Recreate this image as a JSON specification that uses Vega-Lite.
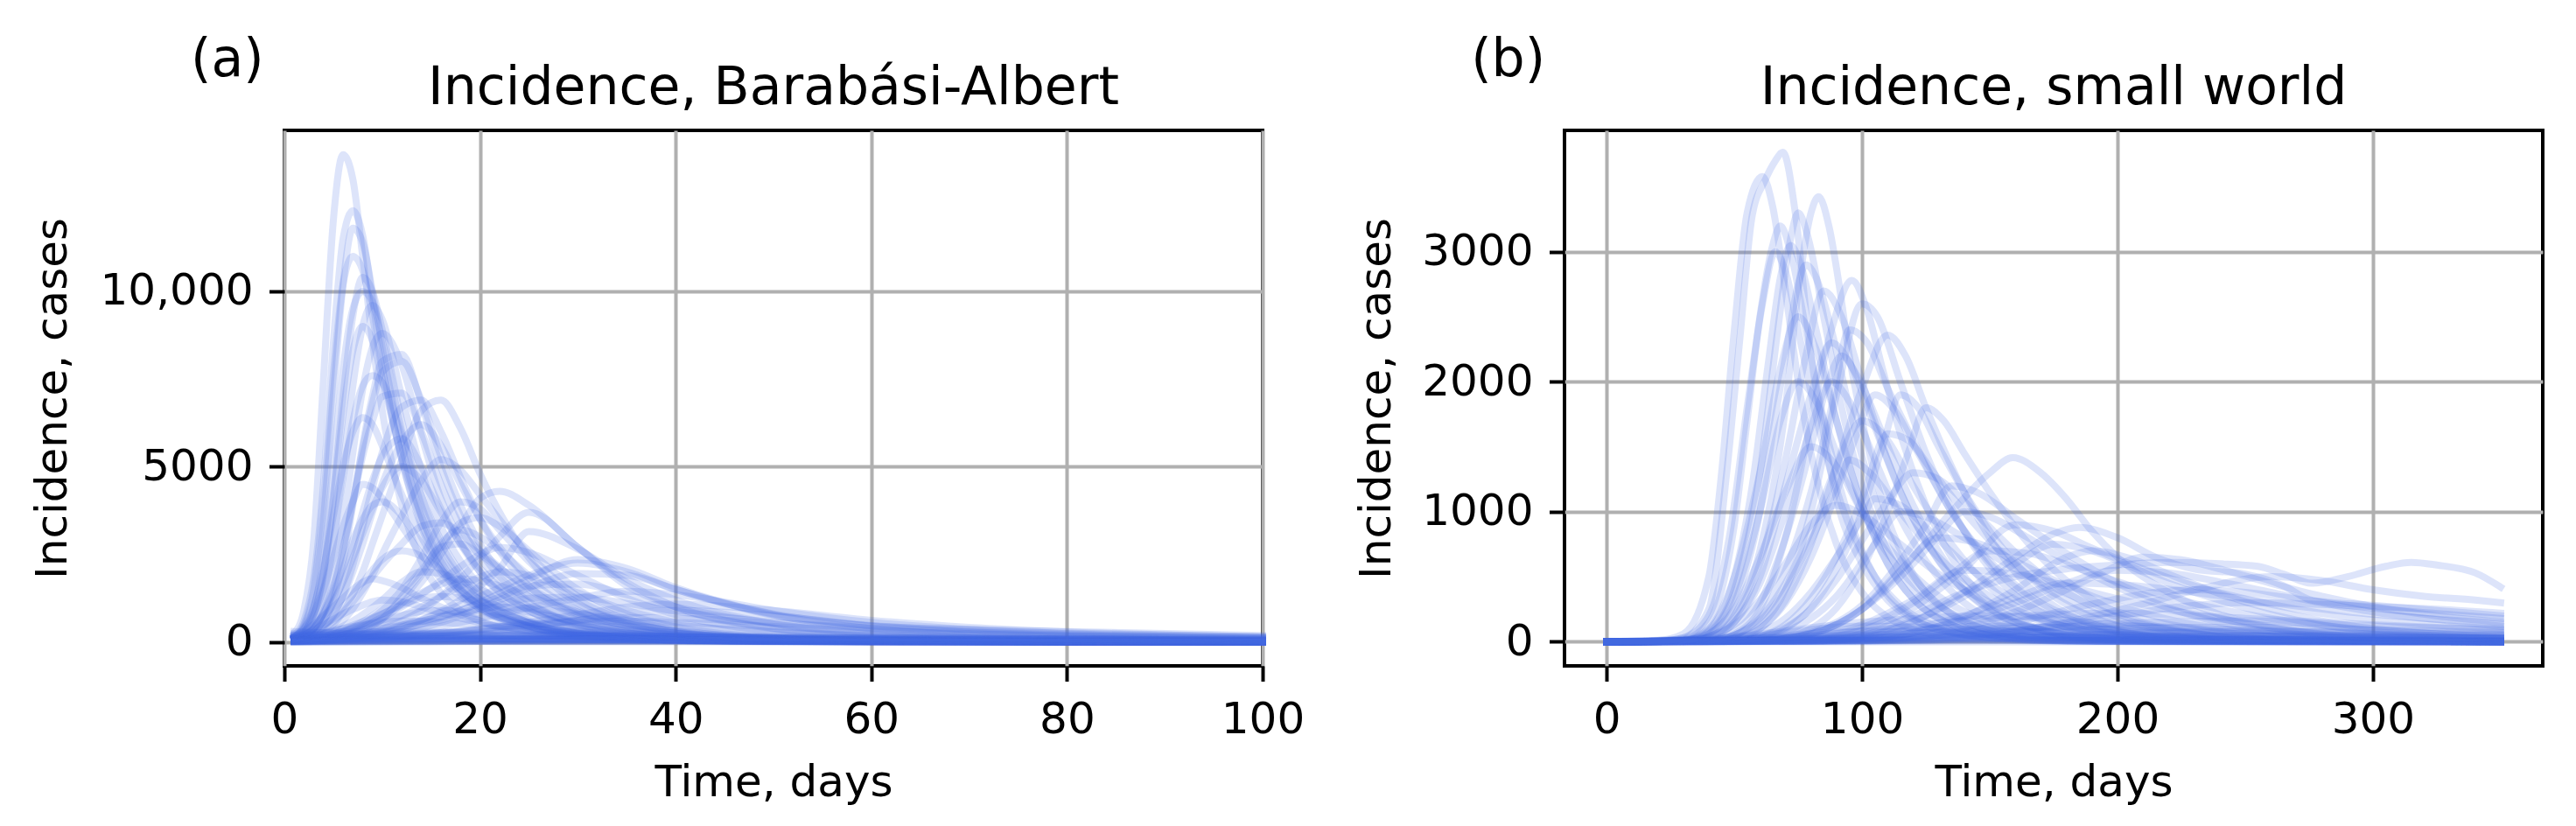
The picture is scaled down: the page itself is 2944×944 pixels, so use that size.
{
"$schema": "https://vega.github.io/schema/vega-lite/v6.json",
"background": "white",
"padding": {"left": 33, "top": 36, "right": 0, "bottom": 0},
"spacing": 53,
"config": {
  "font": "DejaVu Sans",
  "view": {"stroke": "black", "strokeWidth": 4},
  "axis": {
    "labelFont": "DejaVu Sans", "labelFontSize": 50, "labelColor": "black",
    "titleFont": "DejaVu Sans", "titleFontSize": 50, "titleFontWeight": "normal", "titleColor": "black",
    "tickColor": "black", "tickWidth": 4, "tickSize": 17.5, "labelPadding": 18.5,
    "domain": false, "grid": true, "gridColor": "#b0b0b0", "gridWidth": 4, "gridOpacity": 1,
    "labelOverlap": false, "labelFlush": false
  },
  "axisX": {"titlePadding": 22},
  "axisY": {"titleBaseline": "alphabetic", "titleAlign": "center", "titleAngle": 270, "titleY": 306},
  "title": {"font": "DejaVu Sans", "fontSize": 60, "fontWeight": "normal", "color": "black"}
},
"datasets": {
"ba": [
{"r":1,"t":1,"v":250},{"r":1,"t":2,"v":900},{"r":1,"t":3,"v":2900},{"r":1,"t":4,"v":7500},{"r":1,"t":5,"v":12000},{"r":1,"t":6,"v":13900},{"r":1,"t":7,"v":13200},{"r":1,"t":8,"v":11000},{"r":1,"t":9,"v":8600},{"r":1,"t":10,"v":6600},{"r":1,"t":12,"v":3900},{"r":1,"t":14,"v":2300},{"r":1,"t":16,"v":1400},{"r":1,"t":18,"v":900},{"r":1,"t":20,"v":600},{"r":1,"t":25,"v":250},{"r":1,"t":30,"v":120},{"r":1,"t":40,"v":40},{"r":1,"t":50,"v":15},{"r":1,"t":60,"v":8},{"r":1,"t":80,"v":3},{"r":1,"t":100,"v":1},
{"r":2,"t":1,"v":200},{"r":2,"t":2,"v":600},{"r":2,"t":3,"v":1800},{"r":2,"t":4,"v":4500},{"r":2,"t":5,"v":8500},{"r":2,"t":6,"v":11500},{"r":2,"t":7,"v":12300},{"r":2,"t":8,"v":11600},{"r":2,"t":9,"v":9800},{"r":2,"t":10,"v":8000},{"r":2,"t":12,"v":5200},{"r":2,"t":14,"v":3300},{"r":2,"t":16,"v":2100},{"r":2,"t":18,"v":1400},{"r":2,"t":20,"v":950},{"r":2,"t":25,"v":400},{"r":2,"t":30,"v":180},{"r":2,"t":40,"v":50},{"r":2,"t":50,"v":20},{"r":2,"t":60,"v":10},{"r":2,"t":80,"v":4},{"r":2,"t":100,"v":2},
{"r":3,"t":1,"v":150},{"r":3,"t":2,"v":450},{"r":3,"t":3,"v":1300},{"r":3,"t":4,"v":3500},{"r":3,"t":5,"v":7000},{"r":3,"t":6,"v":10200},{"r":3,"t":7,"v":11800},{"r":3,"t":8,"v":11400},{"r":3,"t":9,"v":10000},{"r":3,"t":10,"v":8400},{"r":3,"t":12,"v":5600},{"r":3,"t":14,"v":3600},{"r":3,"t":16,"v":2300},{"r":3,"t":18,"v":1500},{"r":3,"t":20,"v":1000},{"r":3,"t":25,"v":420},{"r":3,"t":30,"v":190},{"r":3,"t":40,"v":55},{"r":3,"t":50,"v":20},{"r":3,"t":60,"v":10},{"r":3,"t":80,"v":4},{"r":3,"t":100,"v":2},
{"r":4,"t":1,"v":120},{"r":4,"t":2,"v":300},{"r":4,"t":3,"v":800},{"r":4,"t":4,"v":2000},{"r":4,"t":5,"v":4200},{"r":4,"t":6,"v":7000},{"r":4,"t":7,"v":9300},{"r":4,"t":8,"v":10400},{"r":4,"t":9,"v":10000},{"r":4,"t":10,"v":8900},{"r":4,"t":12,"v":6300},{"r":4,"t":14,"v":4200},{"r":4,"t":16,"v":2800},{"r":4,"t":18,"v":1900},{"r":4,"t":20,"v":1300},{"r":4,"t":25,"v":560},{"r":4,"t":30,"v":250},{"r":4,"t":40,"v":70},{"r":4,"t":50,"v":25},{"r":4,"t":60,"v":12},{"r":4,"t":80,"v":5},{"r":4,"t":100,"v":2},
{"r":5,"t":1,"v":100},{"r":5,"t":2,"v":220},{"r":5,"t":3,"v":550},{"r":5,"t":4,"v":1300},{"r":5,"t":5,"v":2800},{"r":5,"t":6,"v":5000},{"r":5,"t":7,"v":7300},{"r":5,"t":8,"v":9000},{"r":5,"t":9,"v":9600},{"r":5,"t":10,"v":9200},{"r":5,"t":12,"v":7000},{"r":5,"t":14,"v":4900},{"r":5,"t":16,"v":3300},{"r":5,"t":18,"v":2300},{"r":5,"t":20,"v":1600},{"r":5,"t":25,"v":700},{"r":5,"t":30,"v":320},{"r":5,"t":40,"v":90},{"r":5,"t":50,"v":30},{"r":5,"t":60,"v":14},{"r":5,"t":80,"v":5},{"r":5,"t":100,"v":2},
{"r":6,"t":1,"v":80},{"r":6,"t":2,"v":170},{"r":6,"t":3,"v":380},{"r":6,"t":4,"v":850},{"r":6,"t":5,"v":1800},{"r":6,"t":6,"v":3400},{"r":6,"t":7,"v":5400},{"r":6,"t":8,"v":7200},{"r":6,"t":9,"v":8400},{"r":6,"t":10,"v":8800},{"r":6,"t":12,"v":7900},{"r":6,"t":14,"v":5900},{"r":6,"t":16,"v":4100},{"r":6,"t":18,"v":2900},{"r":6,"t":20,"v":2000},{"r":6,"t":25,"v":900},{"r":6,"t":30,"v":420},{"r":6,"t":40,"v":120},{"r":6,"t":50,"v":40},{"r":6,"t":60,"v":18},{"r":6,"t":80,"v":6},{"r":6,"t":100,"v":3},
{"r":7,"t":1,"v":60},{"r":7,"t":2,"v":130},{"r":7,"t":3,"v":280},{"r":7,"t":4,"v":600},{"r":7,"t":5,"v":1200},{"r":7,"t":6,"v":2300},{"r":7,"t":7,"v":3900},{"r":7,"t":8,"v":5600},{"r":7,"t":9,"v":7000},{"r":7,"t":10,"v":8000},{"r":7,"t":12,"v":8200},{"r":7,"t":14,"v":6800},{"r":7,"t":16,"v":5000},{"r":7,"t":18,"v":3600},{"r":7,"t":20,"v":2600},{"r":7,"t":25,"v":1150},{"r":7,"t":30,"v":520},{"r":7,"t":40,"v":140},{"r":7,"t":50,"v":45},{"r":7,"t":60,"v":20},{"r":7,"t":80,"v":7},{"r":7,"t":100,"v":3},
{"r":8,"t":1,"v":50},{"r":8,"t":2,"v":100},{"r":8,"t":3,"v":200},{"r":8,"t":4,"v":400},{"r":8,"t":5,"v":750},{"r":8,"t":6,"v":1350},{"r":8,"t":7,"v":2200},{"r":8,"t":8,"v":3300},{"r":8,"t":9,"v":4400},{"r":8,"t":10,"v":5400},{"r":8,"t":12,"v":6700},{"r":8,"t":14,"v":6900},{"r":8,"t":16,"v":6000},{"r":8,"t":18,"v":4700},{"r":8,"t":20,"v":3500},{"r":8,"t":25,"v":1600},{"r":8,"t":30,"v":750},{"r":8,"t":40,"v":200},{"r":8,"t":50,"v":70},{"r":8,"t":60,"v":30},{"r":8,"t":80,"v":10},{"r":8,"t":100,"v":4},
{"r":9,"t":1,"v":40},{"r":9,"t":2,"v":80},{"r":9,"t":3,"v":150},{"r":9,"t":4,"v":280},{"r":9,"t":5,"v":500},{"r":9,"t":6,"v":850},{"r":9,"t":7,"v":1350},{"r":9,"t":8,"v":2000},{"r":9,"t":9,"v":2800},{"r":9,"t":10,"v":3600},{"r":9,"t":12,"v":5200},{"r":9,"t":14,"v":6600},{"r":9,"t":16,"v":6900},{"r":9,"t":18,"v":6100},{"r":9,"t":20,"v":4800},{"r":9,"t":25,"v":2400},{"r":9,"t":30,"v":1100},{"r":9,"t":40,"v":280},{"r":9,"t":50,"v":90},{"r":9,"t":60,"v":35},{"r":9,"t":80,"v":12},{"r":9,"t":100,"v":5},
{"r":10,"t":1,"v":40},{"r":10,"t":2,"v":70},{"r":10,"t":3,"v":120},{"r":10,"t":4,"v":220},{"r":10,"t":5,"v":380},{"r":10,"t":6,"v":620},{"r":10,"t":7,"v":950},{"r":10,"t":8,"v":1400},{"r":10,"t":9,"v":1900},{"r":10,"t":10,"v":2500},{"r":10,"t":12,"v":3600},{"r":10,"t":14,"v":4600},{"r":10,"t":16,"v":5200},{"r":10,"t":18,"v":4900},{"r":10,"t":20,"v":4200},{"r":10,"t":25,"v":2500},{"r":10,"t":30,"v":1300},{"r":10,"t":40,"v":350},{"r":10,"t":50,"v":110},{"r":10,"t":60,"v":45},{"r":10,"t":80,"v":14},{"r":10,"t":100,"v":6},
{"r":11,"t":1,"v":70},{"r":11,"t":2,"v":140},{"r":11,"t":3,"v":260},{"r":11,"t":4,"v":450},{"r":11,"t":5,"v":700},{"r":11,"t":6,"v":1000},{"r":11,"t":7,"v":1350},{"r":11,"t":8,"v":1700},{"r":11,"t":9,"v":2050},{"r":11,"t":10,"v":2350},{"r":11,"t":12,"v":2600},{"r":11,"t":14,"v":2450},{"r":11,"t":16,"v":2050},{"r":11,"t":18,"v":1600},{"r":11,"t":20,"v":1200},{"r":11,"t":25,"v":550},{"r":11,"t":30,"v":240},{"r":11,"t":40,"v":60},{"r":11,"t":50,"v":20},{"r":11,"t":60,"v":8},{"r":11,"t":80,"v":3},{"r":11,"t":100,"v":1},
{"r":12,"t":1,"v":60},{"r":12,"t":2,"v":140},{"r":12,"t":3,"v":300},{"r":12,"t":4,"v":600},{"r":12,"t":5,"v":1100},{"r":12,"t":6,"v":1800},{"r":12,"t":7,"v":2700},{"r":12,"t":8,"v":3700},{"r":12,"t":9,"v":4600},{"r":12,"t":10,"v":5300},{"r":12,"t":12,"v":5800},{"r":12,"t":14,"v":5000},{"r":12,"t":16,"v":3800},{"r":12,"t":18,"v":2800},{"r":12,"t":20,"v":2000},{"r":12,"t":25,"v":900},{"r":12,"t":30,"v":400},{"r":12,"t":40,"v":100},{"r":12,"t":50,"v":35},{"r":12,"t":60,"v":15},{"r":12,"t":80,"v":5},{"r":12,"t":100,"v":2},
{"r":13,"t":1,"v":90},{"r":13,"t":2,"v":200},{"r":13,"t":3,"v":420},{"r":13,"t":4,"v":800},{"r":13,"t":5,"v":1400},{"r":13,"t":6,"v":2100},{"r":13,"t":7,"v":2900},{"r":13,"t":8,"v":3500},{"r":13,"t":9,"v":3900},{"r":13,"t":10,"v":4000},{"r":13,"t":12,"v":3600},{"r":13,"t":14,"v":2800},{"r":13,"t":16,"v":2000},{"r":13,"t":18,"v":1450},{"r":13,"t":20,"v":1050},{"r":13,"t":25,"v":450},{"r":13,"t":30,"v":200},{"r":13,"t":40,"v":50},{"r":13,"t":50,"v":18},{"r":13,"t":60,"v":8},{"r":13,"t":80,"v":3},{"r":13,"t":100,"v":1},
{"r":14,"t":1,"v":90},{"r":14,"t":2,"v":250},{"r":14,"t":3,"v":650},{"r":14,"t":4,"v":1500},{"r":14,"t":5,"v":2900},{"r":14,"t":6,"v":4700},{"r":14,"t":7,"v":6300},{"r":14,"t":8,"v":7300},{"r":14,"t":9,"v":7600},{"r":14,"t":10,"v":7400},{"r":14,"t":12,"v":5900},{"r":14,"t":14,"v":4200},{"r":14,"t":16,"v":2900},{"r":14,"t":18,"v":2000},{"r":14,"t":20,"v":1400},{"r":14,"t":25,"v":600},{"r":14,"t":30,"v":260},{"r":14,"t":40,"v":70},{"r":14,"t":50,"v":25},{"r":14,"t":60,"v":10},{"r":14,"t":80,"v":4},{"r":14,"t":100,"v":2},
{"r":15,"t":1,"v":130},{"r":15,"t":2,"v":400},{"r":15,"t":3,"v":1000},{"r":15,"t":4,"v":2100},{"r":15,"t":5,"v":3600},{"r":15,"t":6,"v":5000},{"r":15,"t":7,"v":6000},{"r":15,"t":8,"v":6400},{"r":15,"t":9,"v":6200},{"r":15,"t":10,"v":5600},{"r":15,"t":12,"v":4200},{"r":15,"t":14,"v":3000},{"r":15,"t":16,"v":2100},{"r":15,"t":18,"v":1500},{"r":15,"t":20,"v":1050},{"r":15,"t":25,"v":450},{"r":15,"t":30,"v":200},{"r":15,"t":40,"v":50},{"r":15,"t":50,"v":18},{"r":15,"t":60,"v":8},{"r":15,"t":80,"v":3},{"r":15,"t":100,"v":1},
{"r":16,"t":1,"v":120},{"r":16,"t":2,"v":220},{"r":16,"t":3,"v":350},{"r":16,"t":4,"v":500},{"r":16,"t":5,"v":650},{"r":16,"t":6,"v":800},{"r":16,"t":7,"v":930},{"r":16,"t":8,"v":1050},{"r":16,"t":9,"v":1150},{"r":16,"t":10,"v":1200},{"r":16,"t":12,"v":1150},{"r":16,"t":14,"v":1000},{"r":16,"t":16,"v":830},{"r":16,"t":18,"v":680},{"r":16,"t":20,"v":550},{"r":16,"t":25,"v":320},{"r":16,"t":30,"v":180},{"r":16,"t":40,"v":60},{"r":16,"t":50,"v":25},{"r":16,"t":60,"v":10},{"r":16,"t":80,"v":4},{"r":16,"t":100,"v":2},
{"r":17,"t":1,"v":30},{"r":17,"t":3,"v":60},{"r":17,"t":5,"v":130},{"r":17,"t":7,"v":260},{"r":17,"t":10,"v":650},{"r":17,"t":12,"v":1100},{"r":17,"t":14,"v":1700},{"r":17,"t":16,"v":2500},{"r":17,"t":18,"v":3300},{"r":17,"t":20,"v":4100},{"r":17,"t":22,"v":4300},{"r":17,"t":25,"v":3900},{"r":17,"t":30,"v":2700},{"r":17,"t":35,"v":1700},{"r":17,"t":40,"v":1000},{"r":17,"t":50,"v":380},{"r":17,"t":60,"v":150},{"r":17,"t":70,"v":70},{"r":17,"t":80,"v":35},{"r":17,"t":100,"v":10},
{"r":18,"t":1,"v":30},{"r":18,"t":3,"v":55},{"r":18,"t":5,"v":100},{"r":18,"t":7,"v":180},{"r":18,"t":10,"v":380},{"r":18,"t":12,"v":600},{"r":18,"t":14,"v":900},{"r":18,"t":16,"v":1300},{"r":18,"t":18,"v":1800},{"r":18,"t":20,"v":2400},{"r":18,"t":22,"v":3000},{"r":18,"t":25,"v":3700},{"r":18,"t":30,"v":2700},{"r":18,"t":35,"v":1600},{"r":18,"t":40,"v":1000},{"r":18,"t":50,"v":400},{"r":18,"t":60,"v":170},{"r":18,"t":70,"v":80},{"r":18,"t":80,"v":40},{"r":18,"t":100,"v":12},
{"r":19,"t":1,"v":25},{"r":19,"t":3,"v":45},{"r":19,"t":5,"v":80},{"r":19,"t":7,"v":140},{"r":19,"t":10,"v":280},{"r":19,"t":12,"v":420},{"r":19,"t":14,"v":620},{"r":19,"t":16,"v":880},{"r":19,"t":18,"v":1200},{"r":19,"t":20,"v":1600},{"r":19,"t":22,"v":2100},{"r":19,"t":25,"v":3150},{"r":19,"t":30,"v":2650},{"r":19,"t":35,"v":1800},{"r":19,"t":40,"v":1200},{"r":19,"t":50,"v":520},{"r":19,"t":60,"v":240},{"r":19,"t":70,"v":120},{"r":19,"t":80,"v":70},{"r":19,"t":100,"v":25},
{"r":20,"t":1,"v":20},{"r":20,"t":3,"v":35},{"r":20,"t":5,"v":60},{"r":20,"t":7,"v":100},{"r":20,"t":10,"v":190},{"r":20,"t":12,"v":280},{"r":20,"t":14,"v":400},{"r":20,"t":16,"v":560},{"r":20,"t":18,"v":750},{"r":20,"t":20,"v":980},{"r":20,"t":22,"v":1200},{"r":20,"t":25,"v":1550},{"r":20,"t":30,"v":1950},{"r":20,"t":35,"v":1900},{"r":20,"t":40,"v":1500},{"r":20,"t":50,"v":760},{"r":20,"t":60,"v":460},{"r":20,"t":70,"v":360},{"r":20,"t":80,"v":300},{"r":20,"t":100,"v":190},
{"r":21,"t":1,"v":40},{"r":21,"t":3,"v":90},{"r":21,"t":5,"v":180},{"r":21,"t":7,"v":330},{"r":21,"t":10,"v":700},{"r":21,"t":12,"v":1000},{"r":21,"t":14,"v":1350},{"r":21,"t":16,"v":1750},{"r":21,"t":18,"v":2150},{"r":21,"t":20,"v":2500},{"r":21,"t":22,"v":2700},{"r":21,"t":25,"v":2550},{"r":21,"t":30,"v":1900},{"r":21,"t":35,"v":1250},{"r":21,"t":40,"v":780},{"r":21,"t":50,"v":300},{"r":21,"t":60,"v":120},{"r":21,"t":70,"v":55},{"r":21,"t":80,"v":30},{"r":21,"t":100,"v":10},
{"r":22,"t":1,"v":50},{"r":22,"t":3,"v":110},{"r":22,"t":5,"v":220},{"r":22,"t":7,"v":400},{"r":22,"t":10,"v":800},{"r":22,"t":12,"v":1100},{"r":22,"t":14,"v":1400},{"r":22,"t":16,"v":1650},{"r":22,"t":18,"v":1800},{"r":22,"t":20,"v":1750},{"r":22,"t":22,"v":1600},{"r":22,"t":25,"v":1300},{"r":22,"t":30,"v":850},{"r":22,"t":35,"v":520},{"r":22,"t":40,"v":320},{"r":22,"t":50,"v":120},{"r":22,"t":60,"v":50},{"r":22,"t":70,"v":25},{"r":22,"t":80,"v":12},{"r":22,"t":100,"v":5},
{"r":23,"t":1,"v":30},{"r":23,"t":3,"v":60},{"r":23,"t":5,"v":100},{"r":23,"t":7,"v":160},{"r":23,"t":10,"v":280},{"r":23,"t":12,"v":380},{"r":23,"t":14,"v":500},{"r":23,"t":16,"v":630},{"r":23,"t":18,"v":770},{"r":23,"t":20,"v":900},{"r":23,"t":22,"v":1050},{"r":23,"t":25,"v":1250},{"r":23,"t":30,"v":1280},{"r":23,"t":35,"v":1100},{"r":23,"t":40,"v":880},{"r":23,"t":50,"v":560},{"r":23,"t":60,"v":360},{"r":23,"t":70,"v":240},{"r":23,"t":80,"v":170},{"r":23,"t":100,"v":90},
{"r":24,"t":1,"v":60},{"r":24,"t":3,"v":130},{"r":24,"t":5,"v":230},{"r":24,"t":7,"v":380},{"r":24,"t":10,"v":620},{"r":24,"t":12,"v":760},{"r":24,"t":14,"v":870},{"r":24,"t":16,"v":900},{"r":24,"t":18,"v":860},{"r":24,"t":20,"v":780},{"r":24,"t":22,"v":690},{"r":24,"t":25,"v":560},{"r":24,"t":30,"v":380},{"r":24,"t":35,"v":250},{"r":24,"t":40,"v":160},{"r":24,"t":50,"v":70},{"r":24,"t":60,"v":30},{"r":24,"t":70,"v":15},{"r":24,"t":80,"v":8},{"r":24,"t":100,"v":3},
{"r":25,"t":1,"v":20},{"r":25,"t":3,"v":35},{"r":25,"t":5,"v":55},{"r":25,"t":7,"v":80},{"r":25,"t":10,"v":120},{"r":25,"t":12,"v":160},{"r":25,"t":14,"v":200},{"r":25,"t":16,"v":250},{"r":25,"t":18,"v":300},{"r":25,"t":20,"v":350},{"r":25,"t":22,"v":400},{"r":25,"t":25,"v":480},{"r":25,"t":30,"v":580},{"r":25,"t":35,"v":600},{"r":25,"t":40,"v":560},{"r":25,"t":50,"v":440},{"r":25,"t":60,"v":320},{"r":25,"t":70,"v":230},{"r":25,"t":80,"v":170},{"r":25,"t":100,"v":95},
{"r":26,"t":1,"v":30},{"r":26,"t":3,"v":50},{"r":26,"t":5,"v":80},{"r":26,"t":7,"v":110},{"r":26,"t":10,"v":160},{"r":26,"t":12,"v":200},{"r":26,"t":14,"v":240},{"r":26,"t":16,"v":270},{"r":26,"t":18,"v":290},{"r":26,"t":20,"v":300},{"r":26,"t":22,"v":295},{"r":26,"t":25,"v":280},{"r":26,"t":30,"v":240},{"r":26,"t":35,"v":190},{"r":26,"t":40,"v":150},{"r":26,"t":50,"v":90},{"r":26,"t":60,"v":55},{"r":26,"t":70,"v":35},{"r":26,"t":80,"v":22},{"r":26,"t":100,"v":10},
{"r":27,"t":1,"v":40},{"r":27,"t":3,"v":80},{"r":27,"t":5,"v":150},{"r":27,"t":7,"v":270},{"r":27,"t":10,"v":650},{"r":27,"t":12,"v":1300},{"r":27,"t":14,"v":2000},{"r":27,"t":16,"v":2800},{"r":27,"t":18,"v":3200},{"r":27,"t":20,"v":3000},{"r":27,"t":22,"v":2600},{"r":27,"t":25,"v":1900},{"r":27,"t":30,"v":1050},{"r":27,"t":35,"v":560},{"r":27,"t":40,"v":300},{"r":27,"t":50,"v":90},{"r":27,"t":60,"v":30},{"r":27,"t":70,"v":12},{"r":27,"t":80,"v":6},{"r":27,"t":100,"v":2},
{"r":28,"t":1,"v":10},{"r":28,"t":3,"v":18},{"r":28,"t":5,"v":28},{"r":28,"t":7,"v":40},{"r":28,"t":10,"v":65},{"r":28,"t":12,"v":90},{"r":28,"t":14,"v":120},{"r":28,"t":16,"v":160},{"r":28,"t":18,"v":210},{"r":28,"t":20,"v":270},{"r":28,"t":22,"v":330},{"r":28,"t":25,"v":430},{"r":28,"t":30,"v":620},{"r":28,"t":35,"v":800},{"r":28,"t":40,"v":900},{"r":28,"t":50,"v":750},{"r":28,"t":60,"v":470},{"r":28,"t":70,"v":330},{"r":28,"t":80,"v":250},{"r":28,"t":100,"v":150},
{"r":29,"t":1,"v":150},{"r":29,"t":10,"v":120},{"r":29,"t":20,"v":90},{"r":29,"t":40,"v":60},{"r":29,"t":60,"v":40},{"r":29,"t":80,"v":25},{"r":29,"t":100,"v":15},
{"r":30,"t":1,"v":50},{"r":30,"t":10,"v":80},{"r":30,"t":20,"v":100},{"r":30,"t":40,"v":80},{"r":30,"t":60,"v":50},{"r":30,"t":80,"v":30},{"r":30,"t":100,"v":20},
{"r":31,"t":1,"v":10},{"r":31,"t":10,"v":20},{"r":31,"t":20,"v":30},{"r":31,"t":40,"v":35},{"r":31,"t":60,"v":30},{"r":31,"t":80,"v":25},{"r":31,"t":100,"v":20},
{"r":32,"t":1,"v":300},{"r":32,"t":10,"v":200},{"r":32,"t":20,"v":120},{"r":32,"t":40,"v":50},{"r":32,"t":60,"v":25},{"r":32,"t":80,"v":12},{"r":32,"t":100,"v":6},
{"r":33,"t":1,"v":5},{"r":33,"t":10,"v":10},{"r":33,"t":20,"v":20},{"r":33,"t":40,"v":40},{"r":33,"t":60,"v":60},{"r":33,"t":80,"v":60},{"r":33,"t":100,"v":50},
{"r":34,"t":1,"v":100},{"r":34,"t":10,"v":180},{"r":34,"t":20,"v":160},{"r":34,"t":40,"v":90},{"r":34,"t":60,"v":45},{"r":34,"t":80,"v":20},{"r":34,"t":100,"v":10},
{"r":35,"t":1,"v":0},{"r":35,"t":10,"v":5},{"r":35,"t":20,"v":10},{"r":35,"t":40,"v":15},{"r":35,"t":60,"v":15},{"r":35,"t":80,"v":12},{"r":35,"t":100,"v":10},
{"r":36,"t":1,"v":160},{"r":36,"t":2,"v":500},{"r":36,"t":3,"v":1500},{"r":36,"t":4,"v":4000},{"r":36,"t":5,"v":7600},{"r":36,"t":6,"v":10200},{"r":36,"t":7,"v":11000},{"r":36,"t":8,"v":10600},{"r":36,"t":9,"v":9300},{"r":36,"t":10,"v":7800},{"r":36,"t":12,"v":5200},{"r":36,"t":14,"v":3400},{"r":36,"t":16,"v":2200},{"r":36,"t":18,"v":1500},{"r":36,"t":20,"v":1000},{"r":36,"t":25,"v":450},{"r":36,"t":30,"v":210},{"r":36,"t":40,"v":70},{"r":36,"t":50,"v":30},{"r":36,"t":60,"v":15},{"r":36,"t":80,"v":6},{"r":36,"t":100,"v":3},
{"r":37,"t":1,"v":110},{"r":37,"t":2,"v":280},{"r":37,"t":3,"v":750},{"r":37,"t":4,"v":1900},{"r":37,"t":5,"v":4000},{"r":37,"t":6,"v":6500},{"r":37,"t":7,"v":8300},{"r":37,"t":8,"v":9000},{"r":37,"t":9,"v":8600},{"r":37,"t":10,"v":7500},{"r":37,"t":12,"v":5300},{"r":37,"t":14,"v":3600},{"r":37,"t":16,"v":2400},{"r":37,"t":18,"v":1700},{"r":37,"t":20,"v":1200},{"r":37,"t":25,"v":520},{"r":37,"t":30,"v":240},{"r":37,"t":40,"v":80},{"r":37,"t":50,"v":35},{"r":37,"t":60,"v":18},{"r":37,"t":80,"v":8},{"r":37,"t":100,"v":4},
{"r":38,"t":1,"v":70},{"r":38,"t":2,"v":160},{"r":38,"t":3,"v":380},{"r":38,"t":4,"v":800},{"r":38,"t":5,"v":1500},{"r":38,"t":6,"v":2600},{"r":38,"t":7,"v":4000},{"r":38,"t":8,"v":5500},{"r":38,"t":9,"v":6800},{"r":38,"t":10,"v":7700},{"r":38,"t":12,"v":8000},{"r":38,"t":14,"v":6900},{"r":38,"t":16,"v":5300},{"r":38,"t":18,"v":3900},{"r":38,"t":20,"v":2800},{"r":38,"t":25,"v":1300},{"r":38,"t":30,"v":620},{"r":38,"t":40,"v":180},{"r":38,"t":50,"v":70},{"r":38,"t":60,"v":35},{"r":38,"t":80,"v":14},{"r":38,"t":100,"v":7},
{"r":39,"t":1,"v":50},{"r":39,"t":2,"v":110},{"r":39,"t":3,"v":230},{"r":39,"t":4,"v":450},{"r":39,"t":5,"v":800},{"r":39,"t":6,"v":1300},{"r":39,"t":7,"v":2000},{"r":39,"t":8,"v":2800},{"r":39,"t":9,"v":3700},{"r":39,"t":10,"v":4500},{"r":39,"t":12,"v":5700},{"r":39,"t":14,"v":6200},{"r":39,"t":16,"v":5600},{"r":39,"t":18,"v":4500},{"r":39,"t":20,"v":3500},{"r":39,"t":25,"v":1800},{"r":39,"t":30,"v":900},{"r":39,"t":40,"v":260},{"r":39,"t":50,"v":90},{"r":39,"t":60,"v":40},{"r":39,"t":80,"v":15},{"r":39,"t":100,"v":7},
{"r":40,"t":1,"v":80},{"r":40,"t":2,"v":180},{"r":40,"t":3,"v":380},{"r":40,"t":4,"v":700},{"r":40,"t":5,"v":1150},{"r":40,"t":6,"v":1700},{"r":40,"t":7,"v":2400},{"r":40,"t":8,"v":3100},{"r":40,"t":9,"v":3800},{"r":40,"t":10,"v":4400},{"r":40,"t":12,"v":5000},{"r":40,"t":14,"v":4600},{"r":40,"t":16,"v":3700},{"r":40,"t":18,"v":2800},{"r":40,"t":20,"v":2100},{"r":40,"t":25,"v":1000},{"r":40,"t":30,"v":480},{"r":40,"t":40,"v":140},{"r":40,"t":50,"v":50},{"r":40,"t":60,"v":25},{"r":40,"t":80,"v":10},{"r":40,"t":100,"v":5},
{"r":41,"t":1,"v":150},{"r":41,"t":2,"v":380},{"r":41,"t":3,"v":800},{"r":41,"t":4,"v":1500},{"r":41,"t":5,"v":2400},{"r":41,"t":6,"v":3300},{"r":41,"t":7,"v":4000},{"r":41,"t":8,"v":4500},{"r":41,"t":9,"v":4400},{"r":41,"t":10,"v":4100},{"r":41,"t":12,"v":3300},{"r":41,"t":14,"v":2500},{"r":41,"t":16,"v":1800},{"r":41,"t":18,"v":1300},{"r":41,"t":20,"v":950},{"r":41,"t":25,"v":450},{"r":41,"t":30,"v":220},{"r":41,"t":40,"v":70},{"r":41,"t":50,"v":30},{"r":41,"t":60,"v":15},{"r":41,"t":80,"v":6},{"r":41,"t":100,"v":3},
{"r":42,"t":1,"v":60},{"r":42,"t":2,"v":120},{"r":42,"t":3,"v":220},{"r":42,"t":4,"v":370},{"r":42,"t":5,"v":580},{"r":42,"t":6,"v":850},{"r":42,"t":7,"v":1150},{"r":42,"t":8,"v":1500},{"r":42,"t":9,"v":1850},{"r":42,"t":10,"v":2200},{"r":42,"t":12,"v":2800},{"r":42,"t":14,"v":3300},{"r":42,"t":16,"v":3400},{"r":42,"t":18,"v":3100},{"r":42,"t":20,"v":2600},{"r":42,"t":25,"v":1500},{"r":42,"t":30,"v":800},{"r":42,"t":40,"v":250},{"r":42,"t":50,"v":90},{"r":42,"t":60,"v":40},{"r":42,"t":80,"v":15},{"r":42,"t":100,"v":7},
{"r":43,"t":1,"v":150},{"r":43,"t":2,"v":300},{"r":43,"t":3,"v":500},{"r":43,"t":4,"v":750},{"r":43,"t":5,"v":1000},{"r":43,"t":6,"v":1250},{"r":43,"t":7,"v":1500},{"r":43,"t":8,"v":1700},{"r":43,"t":9,"v":1800},{"r":43,"t":10,"v":1750},{"r":43,"t":12,"v":1550},{"r":43,"t":14,"v":1250},{"r":43,"t":16,"v":1000},{"r":43,"t":18,"v":780},{"r":43,"t":20,"v":600},{"r":43,"t":25,"v":320},{"r":43,"t":30,"v":170},{"r":43,"t":40,"v":60},{"r":43,"t":50,"v":30},{"r":43,"t":60,"v":18},{"r":43,"t":80,"v":10},{"r":43,"t":100,"v":6},
{"r":44,"t":1,"v":70},{"r":44,"t":2,"v":170},{"r":44,"t":3,"v":400},{"r":44,"t":4,"v":850},{"r":44,"t":5,"v":1600},{"r":44,"t":6,"v":2700},{"r":44,"t":7,"v":4000},{"r":44,"t":8,"v":5300},{"r":44,"t":9,"v":6300},{"r":44,"t":10,"v":7000},{"r":44,"t":12,"v":7100},{"r":44,"t":14,"v":6000},{"r":44,"t":16,"v":4500},{"r":44,"t":18,"v":3300},{"r":44,"t":20,"v":2400},{"r":44,"t":25,"v":1100},{"r":44,"t":30,"v":500},{"r":44,"t":40,"v":140},{"r":44,"t":50,"v":55},{"r":44,"t":60,"v":28},{"r":44,"t":80,"v":12},{"r":44,"t":100,"v":6},
{"r":45,"t":1,"v":130},{"r":45,"t":2,"v":350},{"r":45,"t":3,"v":950},{"r":45,"t":4,"v":2400},{"r":45,"t":5,"v":5000},{"r":45,"t":6,"v":7800},{"r":45,"t":7,"v":9500},{"r":45,"t":8,"v":10000},{"r":45,"t":9,"v":9700},{"r":45,"t":10,"v":8600},{"r":45,"t":12,"v":6000},{"r":45,"t":14,"v":3900},{"r":45,"t":16,"v":2600},{"r":45,"t":18,"v":1800},{"r":45,"t":20,"v":1250},{"r":45,"t":25,"v":550},{"r":45,"t":30,"v":250},{"r":45,"t":40,"v":80},{"r":45,"t":50,"v":35},{"r":45,"t":60,"v":18},{"r":45,"t":80,"v":8},{"r":45,"t":100,"v":4},
{"r":46,"t":1,"v":30},{"r":46,"t":3,"v":60},{"r":46,"t":5,"v":110},{"r":46,"t":7,"v":180},{"r":46,"t":10,"v":330},{"r":46,"t":12,"v":470},{"r":46,"t":14,"v":640},{"r":46,"t":16,"v":840},{"r":46,"t":18,"v":1060},{"r":46,"t":20,"v":1300},{"r":46,"t":22,"v":1550},{"r":46,"t":25,"v":1900},{"r":46,"t":30,"v":2250},{"r":46,"t":35,"v":2000},{"r":46,"t":40,"v":1500},{"r":46,"t":50,"v":800},{"r":46,"t":60,"v":450},{"r":46,"t":70,"v":280},{"r":46,"t":80,"v":190},{"r":46,"t":100,"v":110},
{"r":47,"t":1,"v":20},{"r":47,"t":3,"v":40},{"r":47,"t":5,"v":70},{"r":47,"t":7,"v":110},{"r":47,"t":10,"v":190},{"r":47,"t":12,"v":260},{"r":47,"t":14,"v":350},{"r":47,"t":16,"v":450},{"r":47,"t":18,"v":560},{"r":47,"t":20,"v":680},{"r":47,"t":22,"v":800},{"r":47,"t":25,"v":980},{"r":47,"t":30,"v":1250},{"r":47,"t":35,"v":1450},{"r":47,"t":40,"v":1350},{"r":47,"t":50,"v":900},{"r":47,"t":60,"v":560},{"r":47,"t":70,"v":360},{"r":47,"t":80,"v":240},{"r":47,"t":100,"v":130},
{"r":48,"t":1,"v":35},{"r":48,"t":3,"v":75},{"r":48,"t":5,"v":150},{"r":48,"t":7,"v":290},{"r":48,"t":10,"v":700},{"r":48,"t":12,"v":1200},{"r":48,"t":14,"v":1900},{"r":48,"t":16,"v":2700},{"r":48,"t":18,"v":3400},{"r":48,"t":20,"v":3550},{"r":48,"t":22,"v":3300},{"r":48,"t":25,"v":2600},{"r":48,"t":30,"v":1500},{"r":48,"t":35,"v":800},{"r":48,"t":40,"v":430},{"r":48,"t":50,"v":140},{"r":48,"t":60,"v":55},{"r":48,"t":70,"v":25},{"r":48,"t":80,"v":15},{"r":48,"t":100,"v":6},
{"r":49,"t":1,"v":40},{"r":49,"t":3,"v":80},{"r":49,"t":5,"v":150},{"r":49,"t":7,"v":260},{"r":49,"t":10,"v":520},{"r":49,"t":12,"v":750},{"r":49,"t":14,"v":1000},{"r":49,"t":16,"v":1300},{"r":49,"t":18,"v":1600},{"r":49,"t":20,"v":1850},{"r":49,"t":22,"v":2000},{"r":49,"t":25,"v":1900},{"r":49,"t":30,"v":1400},{"r":49,"t":35,"v":900},{"r":49,"t":40,"v":560},{"r":49,"t":50,"v":220},{"r":49,"t":60,"v":100},{"r":49,"t":70,"v":50},{"r":49,"t":80,"v":30},{"r":49,"t":100,"v":12},
{"r":50,"t":1,"v":50},{"r":50,"t":3,"v":90},{"r":50,"t":5,"v":150},{"r":50,"t":7,"v":230},{"r":50,"t":10,"v":380},{"r":50,"t":12,"v":480},{"r":50,"t":14,"v":600},{"r":50,"t":16,"v":720},{"r":50,"t":18,"v":840},{"r":50,"t":20,"v":950},{"r":50,"t":22,"v":1000},{"r":50,"t":25,"v":960},{"r":50,"t":30,"v":800},{"r":50,"t":35,"v":620},{"r":50,"t":40,"v":480},{"r":50,"t":50,"v":290},{"r":50,"t":60,"v":180},{"r":50,"t":70,"v":120},{"r":50,"t":80,"v":80},{"r":50,"t":100,"v":45},
{"r":51,"t":1,"v":15},{"r":51,"t":3,"v":30},{"r":51,"t":5,"v":50},{"r":51,"t":7,"v":80},{"r":51,"t":10,"v":130},{"r":51,"t":12,"v":170},{"r":51,"t":14,"v":220},{"r":51,"t":16,"v":270},{"r":51,"t":18,"v":320},{"r":51,"t":20,"v":380},{"r":51,"t":22,"v":430},{"r":51,"t":25,"v":500},{"r":51,"t":30,"v":620},{"r":51,"t":35,"v":700},{"r":51,"t":40,"v":680},{"r":51,"t":50,"v":550},{"r":51,"t":60,"v":400},{"r":51,"t":70,"v":290},{"r":51,"t":80,"v":210},{"r":51,"t":100,"v":130},
{"r":52,"t":1,"v":200},{"r":52,"t":10,"v":250},{"r":52,"t":20,"v":220},{"r":52,"t":40,"v":150},{"r":52,"t":60,"v":110},{"r":52,"t":80,"v":80},{"r":52,"t":100,"v":60},
{"r":53,"t":1,"v":80},{"r":53,"t":10,"v":150},{"r":53,"t":20,"v":200},{"r":53,"t":40,"v":160},{"r":53,"t":60,"v":120},{"r":53,"t":80,"v":90},{"r":53,"t":100,"v":70},
{"r":54,"t":1,"v":30},{"r":54,"t":10,"v":60},{"r":54,"t":20,"v":90},{"r":54,"t":40,"v":120},{"r":54,"t":60,"v":110},{"r":54,"t":80,"v":100},{"r":54,"t":100,"v":90},
{"r":55,"t":1,"v":250},{"r":55,"t":10,"v":300},{"r":55,"t":20,"v":250},{"r":55,"t":40,"v":140},{"r":55,"t":60,"v":90},{"r":55,"t":80,"v":60},{"r":55,"t":100,"v":40},
{"r":56,"t":1,"v":20},{"r":56,"t":10,"v":40},{"r":56,"t":20,"v":60},{"r":56,"t":40,"v":80},{"r":56,"t":60,"v":70},{"r":56,"t":80,"v":50},{"r":56,"t":100,"v":40},
{"r":57,"t":1,"v":50},{"r":57,"t":3,"v":110},{"r":57,"t":5,"v":230},{"r":57,"t":7,"v":430},{"r":57,"t":10,"v":950},{"r":57,"t":12,"v":1450},{"r":57,"t":14,"v":2050},{"r":57,"t":16,"v":2700},{"r":57,"t":18,"v":2800},{"r":57,"t":20,"v":2500},{"r":57,"t":22,"v":2100},{"r":57,"t":25,"v":1550},{"r":57,"t":30,"v":850},{"r":57,"t":35,"v":450},{"r":57,"t":40,"v":250},{"r":57,"t":50,"v":80},{"r":57,"t":60,"v":30},{"r":57,"t":70,"v":12},{"r":57,"t":80,"v":6},{"r":57,"t":100,"v":2},
{"r":58,"t":1,"v":80},{"r":58,"t":3,"v":160},{"r":58,"t":5,"v":300},{"r":58,"t":7,"v":480},{"r":58,"t":10,"v":800},{"r":58,"t":12,"v":1050},{"r":58,"t":14,"v":1250},{"r":58,"t":16,"v":1300},{"r":58,"t":18,"v":1250},{"r":58,"t":20,"v":1150},{"r":58,"t":22,"v":1020},{"r":58,"t":25,"v":850},{"r":58,"t":30,"v":580},{"r":58,"t":35,"v":380},{"r":58,"t":40,"v":250},{"r":58,"t":50,"v":110},{"r":58,"t":60,"v":50},{"r":58,"t":70,"v":25},{"r":58,"t":80,"v":12},{"r":58,"t":100,"v":5},
{"r":59,"t":1,"v":20},{"r":59,"t":3,"v":40},{"r":59,"t":5,"v":75},{"r":59,"t":7,"v":130},{"r":59,"t":10,"v":250},{"r":59,"t":12,"v":370},{"r":59,"t":14,"v":520},{"r":59,"t":16,"v":700},{"r":59,"t":18,"v":900},{"r":59,"t":20,"v":1130},{"r":59,"t":22,"v":1380},{"r":59,"t":25,"v":1800},{"r":59,"t":30,"v":2350},{"r":59,"t":35,"v":2100},{"r":59,"t":40,"v":1550},{"r":59,"t":50,"v":780},{"r":59,"t":60,"v":380},{"r":59,"t":70,"v":200},{"r":59,"t":80,"v":110},{"r":59,"t":100,"v":45},
{"r":60,"t":1,"v":10},{"r":60,"t":3,"v":20},{"r":60,"t":5,"v":35},{"r":60,"t":7,"v":55},{"r":60,"t":10,"v":95},{"r":60,"t":12,"v":130},{"r":60,"t":14,"v":175},{"r":60,"t":16,"v":230},{"r":60,"t":18,"v":290},{"r":60,"t":20,"v":360},{"r":60,"t":22,"v":440},{"r":60,"t":25,"v":560},{"r":60,"t":30,"v":780},{"r":60,"t":35,"v":1000},{"r":60,"t":40,"v":1080},{"r":60,"t":50,"v":900},{"r":60,"t":60,"v":620},{"r":60,"t":70,"v":420},{"r":60,"t":80,"v":290},{"r":60,"t":100,"v":150},
{"r":61,"t":1,"v":30},{"r":61,"t":3,"v":60},{"r":61,"t":5,"v":110},{"r":61,"t":7,"v":180},{"r":61,"t":10,"v":320},{"r":61,"t":12,"v":440},{"r":61,"t":14,"v":580},{"r":61,"t":16,"v":740},{"r":61,"t":18,"v":910},{"r":61,"t":20,"v":1090},{"r":61,"t":22,"v":1280},{"r":61,"t":25,"v":1600},{"r":61,"t":30,"v":1650},{"r":61,"t":35,"v":1350},{"r":61,"t":40,"v":1000},{"r":61,"t":50,"v":520},{"r":61,"t":60,"v":260},{"r":61,"t":70,"v":140},{"r":61,"t":80,"v":80},{"r":61,"t":100,"v":35},
{"r":62,"t":1,"v":100},{"r":62,"t":3,"v":200},{"r":62,"t":5,"v":320},{"r":62,"t":7,"v":440},{"r":62,"t":10,"v":560},{"r":62,"t":12,"v":600},{"r":62,"t":14,"v":590},{"r":62,"t":16,"v":560},{"r":62,"t":18,"v":520},{"r":62,"t":20,"v":480},{"r":62,"t":22,"v":440},{"r":62,"t":25,"v":380},{"r":62,"t":30,"v":290},{"r":62,"t":35,"v":210},{"r":62,"t":40,"v":150},{"r":62,"t":50,"v":80},{"r":62,"t":60,"v":40},{"r":62,"t":70,"v":22},{"r":62,"t":80,"v":12},{"r":62,"t":100,"v":5},
{"r":63,"t":1,"v":40},{"r":63,"t":3,"v":90},{"r":63,"t":5,"v":190},{"r":63,"t":7,"v":380},{"r":63,"t":10,"v":900},{"r":63,"t":12,"v":1500},{"r":63,"t":14,"v":2400},{"r":63,"t":16,"v":3400},{"r":63,"t":18,"v":4000},{"r":63,"t":20,"v":3800},{"r":63,"t":22,"v":3200},{"r":63,"t":25,"v":2300},{"r":63,"t":30,"v":1200},{"r":63,"t":35,"v":600},{"r":63,"t":40,"v":300},{"r":63,"t":50,"v":90},{"r":63,"t":60,"v":30},{"r":63,"t":70,"v":12},{"r":63,"t":80,"v":6},{"r":63,"t":100,"v":2},
{"r":64,"t":1,"v":70},{"r":64,"t":3,"v":160},{"r":64,"t":5,"v":330},{"r":64,"t":7,"v":600},{"r":64,"t":10,"v":1200},{"r":64,"t":12,"v":1700},{"r":64,"t":14,"v":2000},{"r":64,"t":16,"v":1950},{"r":64,"t":18,"v":1750},{"r":64,"t":20,"v":1500},{"r":64,"t":22,"v":1250},{"r":64,"t":25,"v":950},{"r":64,"t":30,"v":560},{"r":64,"t":35,"v":330},{"r":64,"t":40,"v":200},{"r":64,"t":50,"v":80},{"r":64,"t":60,"v":35},{"r":64,"t":70,"v":18},{"r":64,"t":80,"v":10},{"r":64,"t":100,"v":4},
{"r":65,"t":1,"v":120},{"r":65,"t":10,"v":100},{"r":65,"t":20,"v":80},{"r":65,"t":40,"v":70},{"r":65,"t":60,"v":60},{"r":65,"t":80,"v":50},{"r":65,"t":100,"v":40},
{"r":66,"t":1,"v":40},{"r":66,"t":10,"v":120},{"r":66,"t":20,"v":180},{"r":66,"t":40,"v":130},{"r":66,"t":60,"v":80},{"r":66,"t":80,"v":50},{"r":66,"t":100,"v":30},
{"r":67,"t":1,"v":200},{"r":67,"t":10,"v":150},{"r":67,"t":20,"v":100},{"r":67,"t":40,"v":70},{"r":67,"t":60,"v":50},{"r":67,"t":80,"v":35},{"r":67,"t":100,"v":25},
{"r":68,"t":1,"v":15},{"r":68,"t":10,"v":30},{"r":68,"t":20,"v":50},{"r":68,"t":40,"v":60},{"r":68,"t":60,"v":55},{"r":68,"t":80,"v":45},{"r":68,"t":100,"v":35},
{"r":69,"t":1,"v":60},{"r":69,"t":10,"v":60},{"r":69,"t":20,"v":60},{"r":69,"t":40,"v":50},{"r":69,"t":60,"v":40},{"r":69,"t":80,"v":30},{"r":69,"t":100,"v":25},
{"r":70,"t":1,"v":150},{"r":70,"t":10,"v":220},{"r":70,"t":20,"v":200},{"r":70,"t":40,"v":120},{"r":70,"t":60,"v":70},{"r":70,"t":80,"v":40},{"r":70,"t":100,"v":25},
{"r":71,"t":1,"v":5},{"r":71,"t":10,"v":15},{"r":71,"t":20,"v":40},{"r":71,"t":40,"v":90},{"r":71,"t":60,"v":100},{"r":71,"t":80,"v":80},{"r":71,"t":100,"v":60},
{"r":72,"t":1,"v":80},{"r":72,"t":10,"v":40},{"r":72,"t":20,"v":20},{"r":72,"t":40,"v":10},{"r":72,"t":60,"v":5},{"r":72,"t":80,"v":3},{"r":72,"t":100,"v":2}
],
"sw": [
{"r":1,"t":0,"v":0},{"r":1,"t":20,"v":5},{"r":1,"t":30,"v":30},{"r":1,"t":40,"v":250},{"r":1,"t":47,"v":1300},{"r":1,"t":52,"v":2300},{"r":1,"t":57,"v":3280},{"r":1,"t":62,"v":3550},{"r":1,"t":66,"v":3700},{"r":1,"t":69,"v":3767},{"r":1,"t":74,"v":3280},{"r":1,"t":79,"v":2360},{"r":1,"t":85,"v":1600},{"r":1,"t":90,"v":1100},{"r":1,"t":100,"v":600},{"r":1,"t":110,"v":320},{"r":1,"t":120,"v":170},{"r":1,"t":135,"v":70},{"r":1,"t":150,"v":30},{"r":1,"t":180,"v":8},{"r":1,"t":220,"v":2},{"r":1,"t":350,"v":0},
{"r":2,"t":0,"v":0},{"r":2,"t":20,"v":10},{"r":2,"t":30,"v":60},{"r":2,"t":40,"v":500},{"r":2,"t":45,"v":1300},{"r":2,"t":50,"v":2400},{"r":2,"t":55,"v":3300},{"r":2,"t":61,"v":3580},{"r":2,"t":65,"v":3350},{"r":2,"t":70,"v":2700},{"r":2,"t":75,"v":2000},{"r":2,"t":80,"v":1450},{"r":2,"t":90,"v":750},{"r":2,"t":100,"v":380},{"r":2,"t":110,"v":190},{"r":2,"t":120,"v":95},{"r":2,"t":135,"v":35},{"r":2,"t":150,"v":15},{"r":2,"t":180,"v":4},{"r":2,"t":220,"v":1},{"r":2,"t":350,"v":0},
{"r":3,"t":0,"v":0},{"r":3,"t":30,"v":5},{"r":3,"t":40,"v":40},{"r":3,"t":50,"v":200},{"r":3,"t":60,"v":700},{"r":3,"t":70,"v":1800},{"r":3,"t":75,"v":2700},{"r":3,"t":80,"v":3300},{"r":3,"t":83,"v":3425},{"r":3,"t":87,"v":3200},{"r":3,"t":91,"v":2750},{"r":3,"t":95,"v":2200},{"r":3,"t":100,"v":1700},{"r":3,"t":110,"v":950},{"r":3,"t":120,"v":520},{"r":3,"t":135,"v":210},{"r":3,"t":150,"v":85},{"r":3,"t":165,"v":35},{"r":3,"t":180,"v":15},{"r":3,"t":220,"v":3},{"r":3,"t":350,"v":0},
{"r":4,"t":0,"v":0},{"r":4,"t":20,"v":3},{"r":4,"t":30,"v":20},{"r":4,"t":40,"v":150},{"r":4,"t":50,"v":900},{"r":4,"t":55,"v":1700},{"r":4,"t":60,"v":2500},{"r":4,"t":65,"v":3050},{"r":4,"t":68,"v":3200},{"r":4,"t":72,"v":3000},{"r":4,"t":78,"v":2400},{"r":4,"t":85,"v":1700},{"r":4,"t":95,"v":950},{"r":4,"t":105,"v":500},{"r":4,"t":120,"v":180},{"r":4,"t":135,"v":70},{"r":4,"t":150,"v":28},{"r":4,"t":180,"v":5},{"r":4,"t":350,"v":0},
{"r":5,"t":0,"v":0},{"r":5,"t":30,"v":10},{"r":5,"t":40,"v":60},{"r":5,"t":50,"v":300},{"r":5,"t":60,"v":1000},{"r":5,"t":65,"v":1600},{"r":5,"t":70,"v":2200},{"r":5,"t":75,"v":2750},{"r":5,"t":78,"v":2900},{"r":5,"t":82,"v":2800},{"r":5,"t":88,"v":2400},{"r":5,"t":95,"v":1800},{"r":5,"t":105,"v":1100},{"r":5,"t":115,"v":650},{"r":5,"t":125,"v":380},{"r":5,"t":140,"v":160},{"r":5,"t":160,"v":50},{"r":5,"t":180,"v":15},{"r":5,"t":220,"v":2},{"r":5,"t":350,"v":0},
{"r":6,"t":0,"v":0},{"r":6,"t":40,"v":10},{"r":6,"t":50,"v":60},{"r":6,"t":60,"v":250},{"r":6,"t":70,"v":800},{"r":6,"t":80,"v":1700},{"r":6,"t":88,"v":2400},{"r":6,"t":96,"v":2780},{"r":6,"t":102,"v":2550},{"r":6,"t":108,"v":2100},{"r":6,"t":115,"v":1600},{"r":6,"t":125,"v":1050},{"r":6,"t":135,"v":650},{"r":6,"t":150,"v":300},{"r":6,"t":165,"v":130},{"r":6,"t":180,"v":55},{"r":6,"t":200,"v":18},{"r":6,"t":240,"v":3},{"r":6,"t":350,"v":0},
{"r":7,"t":0,"v":0},{"r":7,"t":40,"v":5},{"r":7,"t":50,"v":25},{"r":7,"t":60,"v":100},{"r":7,"t":70,"v":320},{"r":7,"t":80,"v":750},{"r":7,"t":90,"v":1350},{"r":7,"t":100,"v":1950},{"r":7,"t":110,"v":2360},{"r":7,"t":117,"v":2200},{"r":7,"t":125,"v":1800},{"r":7,"t":135,"v":1350},{"r":7,"t":150,"v":800},{"r":7,"t":165,"v":430},{"r":7,"t":180,"v":220},{"r":7,"t":200,"v":80},{"r":7,"t":220,"v":30},{"r":7,"t":260,"v":5},{"r":7,"t":350,"v":0},
{"r":8,"t":0,"v":0},{"r":8,"t":60,"v":10},{"r":8,"t":80,"v":60},{"r":8,"t":100,"v":250},{"r":8,"t":120,"v":650},{"r":8,"t":135,"v":1000},{"r":8,"t":150,"v":1300},{"r":8,"t":159,"v":1416},{"r":8,"t":170,"v":1300},{"r":8,"t":180,"v":1100},{"r":8,"t":190,"v":850},{"r":8,"t":200,"v":650},{"r":8,"t":220,"v":380},{"r":8,"t":240,"v":210},{"r":8,"t":260,"v":110},{"r":8,"t":280,"v":55},{"r":8,"t":300,"v":28},{"r":8,"t":325,"v":12},{"r":8,"t":350,"v":6},
{"r":9,"t":0,"v":0},{"r":9,"t":60,"v":3},{"r":9,"t":80,"v":10},{"r":9,"t":100,"v":60},{"r":9,"t":120,"v":200},{"r":9,"t":140,"v":380},{"r":9,"t":160,"v":500},{"r":9,"t":180,"v":560},{"r":9,"t":200,"v":590},{"r":9,"t":220,"v":610},{"r":9,"t":240,"v":600},{"r":9,"t":255,"v":580},{"r":9,"t":265,"v":520},{"r":9,"t":276,"v":450},{"r":9,"t":290,"v":500},{"r":9,"t":305,"v":580},{"r":9,"t":315,"v":610},{"r":9,"t":325,"v":590},{"r":9,"t":340,"v":530},{"r":9,"t":350,"v":420},
{"r":10,"t":0,"v":0},{"r":10,"t":60,"v":2},{"r":10,"t":80,"v":5},{"r":10,"t":100,"v":40},{"r":10,"t":120,"v":150},{"r":10,"t":140,"v":380},{"r":10,"t":160,"v":650},{"r":10,"t":175,"v":830},{"r":10,"t":185,"v":880},{"r":10,"t":200,"v":800},{"r":10,"t":215,"v":650},{"r":10,"t":230,"v":560},{"r":10,"t":250,"v":520},{"r":10,"t":265,"v":430},{"r":10,"t":276,"v":320},{"r":10,"t":300,"v":280},{"r":10,"t":325,"v":240},{"r":10,"t":350,"v":200},
{"r":11,"t":0,"v":0},{"r":11,"t":30,"v":5},{"r":11,"t":40,"v":30},{"r":11,"t":50,"v":150},{"r":11,"t":60,"v":450},{"r":11,"t":70,"v":1000},{"r":11,"t":80,"v":1650},{"r":11,"t":88,"v":2000},{"r":11,"t":95,"v":1850},{"r":11,"t":105,"v":1400},{"r":11,"t":115,"v":950},{"r":11,"t":125,"v":620},{"r":11,"t":140,"v":300},{"r":11,"t":155,"v":140},{"r":11,"t":170,"v":60},{"r":11,"t":190,"v":20},{"r":11,"t":220,"v":5},{"r":11,"t":350,"v":0},
{"r":12,"t":0,"v":0},{"r":12,"t":40,"v":10},{"r":12,"t":50,"v":50},{"r":12,"t":60,"v":180},{"r":12,"t":70,"v":450},{"r":12,"t":80,"v":850},{"r":12,"t":90,"v":1350},{"r":12,"t":100,"v":1700},{"r":12,"t":110,"v":1550},{"r":12,"t":120,"v":1200},{"r":12,"t":135,"v":750},{"r":12,"t":150,"v":420},{"r":12,"t":165,"v":220},{"r":12,"t":180,"v":110},{"r":12,"t":200,"v":40},{"r":12,"t":230,"v":10},{"r":12,"t":350,"v":0},
{"r":13,"t":0,"v":0},{"r":13,"t":50,"v":10},{"r":13,"t":60,"v":40},{"r":13,"t":70,"v":110},{"r":13,"t":80,"v":250},{"r":13,"t":90,"v":480},{"r":13,"t":100,"v":780},{"r":13,"t":110,"v":1080},{"r":13,"t":120,"v":1300},{"r":13,"t":130,"v":1250},{"r":13,"t":140,"v":1080},{"r":13,"t":150,"v":880},{"r":13,"t":165,"v":600},{"r":13,"t":180,"v":380},{"r":13,"t":200,"v":190},{"r":13,"t":220,"v":90},{"r":13,"t":240,"v":40},{"r":13,"t":270,"v":12},{"r":13,"t":350,"v":1},
{"r":14,"t":0,"v":0},{"r":14,"t":60,"v":10},{"r":14,"t":80,"v":60},{"r":14,"t":100,"v":250},{"r":14,"t":120,"v":600},{"r":14,"t":130,"v":820},{"r":14,"t":140,"v":1000},{"r":14,"t":150,"v":960},{"r":14,"t":165,"v":800},{"r":14,"t":180,"v":620},{"r":14,"t":200,"v":420},{"r":14,"t":220,"v":260},{"r":14,"t":240,"v":150},{"r":14,"t":260,"v":80},{"r":14,"t":280,"v":40},{"r":14,"t":300,"v":20},{"r":14,"t":350,"v":4},
{"r":15,"t":0,"v":0},{"r":15,"t":80,"v":10},{"r":15,"t":100,"v":50},{"r":15,"t":120,"v":160},{"r":15,"t":140,"v":350},{"r":15,"t":160,"v":600},{"r":15,"t":175,"v":750},{"r":15,"t":190,"v":700},{"r":15,"t":205,"v":580},{"r":15,"t":220,"v":450},{"r":15,"t":240,"v":320},{"r":15,"t":260,"v":210},{"r":15,"t":280,"v":130},{"r":15,"t":300,"v":80},{"r":15,"t":325,"v":45},{"r":15,"t":350,"v":25},
{"r":16,"t":0,"v":0},{"r":16,"t":80,"v":5},{"r":16,"t":100,"v":20},{"r":16,"t":120,"v":70},{"r":16,"t":140,"v":170},{"r":16,"t":160,"v":300},{"r":16,"t":180,"v":450},{"r":16,"t":200,"v":550},{"r":16,"t":220,"v":530},{"r":16,"t":240,"v":460},{"r":16,"t":260,"v":380},{"r":16,"t":280,"v":300},{"r":16,"t":300,"v":230},{"r":16,"t":325,"v":170},{"r":16,"t":350,"v":120},
{"r":17,"t":0,"v":0},{"r":17,"t":100,"v":10},{"r":17,"t":130,"v":50},{"r":17,"t":160,"v":150},{"r":17,"t":190,"v":290},{"r":17,"t":215,"v":380},{"r":17,"t":230,"v":400},{"r":17,"t":250,"v":380},{"r":17,"t":270,"v":330},{"r":17,"t":290,"v":280},{"r":17,"t":310,"v":240},{"r":17,"t":330,"v":210},{"r":17,"t":350,"v":180},
{"r":18,"t":0,"v":0},{"r":18,"t":20,"v":3},{"r":18,"t":30,"v":15},{"r":18,"t":40,"v":100},{"r":18,"t":50,"v":500},{"r":18,"t":60,"v":1300},{"r":18,"t":68,"v":2100},{"r":18,"t":75,"v":2500},{"r":18,"t":82,"v":2250},{"r":18,"t":90,"v":1700},{"r":18,"t":100,"v":1050},{"r":18,"t":110,"v":600},{"r":18,"t":120,"v":330},{"r":18,"t":135,"v":130},{"r":18,"t":150,"v":50},{"r":18,"t":170,"v":15},{"r":18,"t":200,"v":3},{"r":18,"t":350,"v":0},
{"r":19,"t":0,"v":0},{"r":19,"t":30,"v":3},{"r":19,"t":40,"v":15},{"r":19,"t":50,"v":80},{"r":19,"t":60,"v":300},{"r":19,"t":70,"v":800},{"r":19,"t":80,"v":1500},{"r":19,"t":86,"v":1950},{"r":19,"t":92,"v":2200},{"r":19,"t":98,"v":2050},{"r":19,"t":108,"v":1600},{"r":19,"t":120,"v":1050},{"r":19,"t":135,"v":550},{"r":19,"t":150,"v":260},{"r":19,"t":170,"v":90},{"r":19,"t":190,"v":30},{"r":19,"t":220,"v":6},{"r":19,"t":350,"v":0},
{"r":20,"t":0,"v":0},{"r":20,"t":40,"v":5},{"r":20,"t":50,"v":20},{"r":20,"t":60,"v":70},{"r":20,"t":70,"v":180},{"r":20,"t":80,"v":380},{"r":20,"t":90,"v":650},{"r":20,"t":100,"v":950},{"r":20,"t":105,"v":1100},{"r":20,"t":115,"v":1050},{"r":20,"t":125,"v":880},{"r":20,"t":140,"v":600},{"r":20,"t":155,"v":380},{"r":20,"t":170,"v":230},{"r":20,"t":190,"v":110},{"r":20,"t":210,"v":50},{"r":20,"t":240,"v":15},{"r":20,"t":350,"v":1},
{"r":21,"t":0,"v":0},{"r":21,"t":20,"v":2},{"r":21,"t":30,"v":10},{"r":21,"t":40,"v":90},{"r":21,"t":50,"v":500},{"r":21,"t":57,"v":1200},{"r":21,"t":63,"v":2100},{"r":21,"t":68,"v":2800},{"r":21,"t":72,"v":3050},{"r":21,"t":76,"v":2900},{"r":21,"t":82,"v":2400},{"r":21,"t":90,"v":1700},{"r":21,"t":100,"v":1050},{"r":21,"t":110,"v":600},{"r":21,"t":120,"v":330},{"r":21,"t":135,"v":130},{"r":21,"t":150,"v":50},{"r":21,"t":170,"v":15},{"r":21,"t":200,"v":3},{"r":21,"t":350,"v":0},
{"r":22,"t":0,"v":0},{"r":22,"t":50,"v":5},{"r":22,"t":60,"v":30},{"r":22,"t":70,"v":100},{"r":22,"t":80,"v":260},{"r":22,"t":90,"v":560},{"r":22,"t":100,"v":1000},{"r":22,"t":108,"v":1500},{"r":22,"t":115,"v":1900},{"r":22,"t":122,"v":1800},{"r":22,"t":130,"v":1500},{"r":22,"t":140,"v":1150},{"r":22,"t":155,"v":720},{"r":22,"t":170,"v":420},{"r":22,"t":190,"v":190},{"r":22,"t":210,"v":80},{"r":22,"t":240,"v":20},{"r":22,"t":350,"v":1},
{"r":23,"t":0,"v":0},{"r":23,"t":60,"v":10},{"r":23,"t":80,"v":60},{"r":23,"t":100,"v":250},{"r":23,"t":115,"v":550},{"r":23,"t":130,"v":800},{"r":23,"t":145,"v":760},{"r":23,"t":160,"v":620},{"r":23,"t":180,"v":430},{"r":23,"t":200,"v":280},{"r":23,"t":225,"v":150},{"r":23,"t":250,"v":80},{"r":23,"t":280,"v":35},{"r":23,"t":310,"v":15},{"r":23,"t":350,"v":6},
{"r":24,"t":0,"v":0},{"r":24,"t":100,"v":5},{"r":24,"t":150,"v":60},{"r":24,"t":200,"v":200},{"r":24,"t":225,"v":270},{"r":24,"t":250,"v":300},{"r":24,"t":275,"v":290},{"r":24,"t":300,"v":270},{"r":24,"t":325,"v":250},{"r":24,"t":350,"v":220},
{"r":25,"t":0,"v":0},{"r":25,"t":50,"v":5},{"r":25,"t":100,"v":20},{"r":25,"t":150,"v":40},{"r":25,"t":200,"v":50},{"r":25,"t":250,"v":45},{"r":25,"t":300,"v":35},{"r":25,"t":350,"v":25},
{"r":26,"t":0,"v":0},{"r":26,"t":50,"v":2},{"r":26,"t":100,"v":5},{"r":26,"t":150,"v":10},{"r":26,"t":200,"v":15},{"r":26,"t":250,"v":20},{"r":26,"t":300,"v":25},{"r":26,"t":350,"v":30},
{"r":27,"t":0,"v":0},{"r":27,"t":50,"v":20},{"r":27,"t":100,"v":80},{"r":27,"t":150,"v":60},{"r":27,"t":200,"v":30},{"r":27,"t":250,"v":15},{"r":27,"t":300,"v":8},{"r":27,"t":350,"v":4},
{"r":28,"t":0,"v":0},{"r":28,"t":50,"v":0},{"r":28,"t":100,"v":0},{"r":28,"t":150,"v":0},{"r":28,"t":200,"v":0},{"r":28,"t":250,"v":0},{"r":28,"t":300,"v":0},{"r":28,"t":350,"v":0},
{"r":29,"t":0,"v":0},{"r":29,"t":50,"v":10},{"r":29,"t":100,"v":40},{"r":29,"t":150,"v":100},{"r":29,"t":200,"v":120},{"r":29,"t":250,"v":90},{"r":29,"t":300,"v":60},{"r":29,"t":350,"v":40},
{"r":30,"t":0,"v":0},{"r":30,"t":50,"v":3},{"r":30,"t":100,"v":10},{"r":30,"t":150,"v":25},{"r":30,"t":200,"v":60},{"r":30,"t":250,"v":80},{"r":30,"t":300,"v":70},{"r":30,"t":350,"v":55},
{"r":31,"t":0,"v":0},{"r":31,"t":40,"v":5},{"r":31,"t":50,"v":30},{"r":31,"t":60,"v":120},{"r":31,"t":70,"v":400},{"r":31,"t":80,"v":1000},{"r":31,"t":90,"v":1900},{"r":31,"t":100,"v":2600},{"r":31,"t":106,"v":2500},{"r":31,"t":115,"v":2000},{"r":31,"t":125,"v":1450},{"r":31,"t":140,"v":850},{"r":31,"t":155,"v":450},{"r":31,"t":170,"v":220},{"r":31,"t":190,"v":80},{"r":31,"t":220,"v":20},{"r":31,"t":350,"v":0},
{"r":32,"t":0,"v":0},{"r":32,"t":30,"v":10},{"r":32,"t":40,"v":60},{"r":32,"t":50,"v":250},{"r":32,"t":60,"v":650},{"r":32,"t":70,"v":1150},{"r":32,"t":80,"v":1500},{"r":32,"t":90,"v":1350},{"r":32,"t":100,"v":1000},{"r":32,"t":115,"v":620},{"r":32,"t":130,"v":350},{"r":32,"t":150,"v":150},{"r":32,"t":170,"v":60},{"r":32,"t":200,"v":15},{"r":32,"t":350,"v":0},
{"r":33,"t":0,"v":0},{"r":33,"t":80,"v":5},{"r":33,"t":100,"v":20},{"r":33,"t":120,"v":70},{"r":33,"t":140,"v":190},{"r":33,"t":160,"v":400},{"r":33,"t":180,"v":650},{"r":33,"t":190,"v":700},{"r":33,"t":205,"v":640},{"r":33,"t":220,"v":520},{"r":33,"t":240,"v":370},{"r":33,"t":260,"v":250},{"r":33,"t":280,"v":160},{"r":33,"t":300,"v":100},{"r":33,"t":325,"v":60},{"r":33,"t":350,"v":35},
{"r":34,"t":0,"v":0},{"r":34,"t":30,"v":10},{"r":34,"t":40,"v":80},{"r":34,"t":50,"v":400},{"r":34,"t":60,"v":1300},{"r":34,"t":67,"v":2400},{"r":34,"t":72,"v":3100},{"r":34,"t":75,"v":3300},{"r":34,"t":79,"v":3100},{"r":34,"t":85,"v":2500},{"r":34,"t":92,"v":1800},{"r":34,"t":100,"v":1200},{"r":34,"t":110,"v":700},{"r":34,"t":120,"v":400},{"r":34,"t":135,"v":160},{"r":34,"t":150,"v":60},{"r":34,"t":170,"v":18},{"r":34,"t":200,"v":4},{"r":34,"t":350,"v":0},
{"r":35,"t":0,"v":0},{"r":35,"t":30,"v":5},{"r":35,"t":40,"v":40},{"r":35,"t":50,"v":180},{"r":35,"t":60,"v":600},{"r":35,"t":70,"v":1400},{"r":35,"t":78,"v":2200},{"r":35,"t":85,"v":2700},{"r":35,"t":92,"v":2500},{"r":35,"t":100,"v":2000},{"r":35,"t":110,"v":1400},{"r":35,"t":120,"v":950},{"r":35,"t":135,"v":500},{"r":35,"t":150,"v":240},{"r":35,"t":170,"v":90},{"r":35,"t":190,"v":30},{"r":35,"t":220,"v":8},{"r":35,"t":350,"v":0},
{"r":36,"t":0,"v":0},{"r":36,"t":40,"v":10},{"r":36,"t":50,"v":50},{"r":36,"t":60,"v":200},{"r":36,"t":70,"v":550},{"r":36,"t":80,"v":1150},{"r":36,"t":88,"v":1800},{"r":36,"t":95,"v":2400},{"r":36,"t":102,"v":2300},{"r":36,"t":110,"v":1950},{"r":36,"t":120,"v":1550},{"r":36,"t":135,"v":1000},{"r":36,"t":150,"v":620},{"r":36,"t":170,"v":300},{"r":36,"t":190,"v":140},{"r":36,"t":220,"v":45},{"r":36,"t":260,"v":10},{"r":36,"t":350,"v":1},
{"r":37,"t":0,"v":0},{"r":37,"t":30,"v":10},{"r":37,"t":40,"v":70},{"r":37,"t":50,"v":350},{"r":37,"t":60,"v":1000},{"r":37,"t":68,"v":1700},{"r":37,"t":75,"v":2000},{"r":37,"t":82,"v":1850},{"r":37,"t":90,"v":1450},{"r":37,"t":100,"v":1000},{"r":37,"t":115,"v":550},{"r":37,"t":130,"v":280},{"r":37,"t":150,"v":110},{"r":37,"t":175,"v":35},{"r":37,"t":210,"v":8},{"r":37,"t":350,"v":0},
{"r":38,"t":0,"v":0},{"r":38,"t":50,"v":10},{"r":38,"t":60,"v":40},{"r":38,"t":70,"v":130},{"r":38,"t":80,"v":330},{"r":38,"t":90,"v":650},{"r":38,"t":100,"v":1100},{"r":38,"t":110,"v":1600},{"r":38,"t":118,"v":1550},{"r":38,"t":128,"v":1300},{"r":38,"t":140,"v":1000},{"r":38,"t":155,"v":680},{"r":38,"t":170,"v":440},{"r":38,"t":190,"v":230},{"r":38,"t":215,"v":100},{"r":38,"t":250,"v":30},{"r":38,"t":300,"v":6},{"r":38,"t":350,"v":1},
{"r":39,"t":0,"v":0},{"r":39,"t":60,"v":10},{"r":39,"t":80,"v":70},{"r":39,"t":100,"v":280},{"r":39,"t":115,"v":620},{"r":39,"t":125,"v":900},{"r":39,"t":135,"v":1200},{"r":39,"t":145,"v":1150},{"r":39,"t":160,"v":950},{"r":39,"t":180,"v":680},{"r":39,"t":200,"v":450},{"r":39,"t":225,"v":260},{"r":39,"t":250,"v":140},{"r":39,"t":280,"v":60},{"r":39,"t":310,"v":25},{"r":39,"t":350,"v":10},
{"r":40,"t":0,"v":0},{"r":40,"t":80,"v":20},{"r":40,"t":100,"v":90},{"r":40,"t":120,"v":260},{"r":40,"t":140,"v":560},{"r":40,"t":160,"v":900},{"r":40,"t":175,"v":850},{"r":40,"t":190,"v":720},{"r":40,"t":210,"v":560},{"r":40,"t":230,"v":430},{"r":40,"t":250,"v":330},{"r":40,"t":270,"v":250},{"r":40,"t":290,"v":190},{"r":40,"t":310,"v":150},{"r":40,"t":330,"v":120},{"r":40,"t":350,"v":100},
{"r":41,"t":0,"v":0},{"r":41,"t":100,"v":10},{"r":41,"t":120,"v":40},{"r":41,"t":140,"v":110},{"r":41,"t":160,"v":230},{"r":41,"t":180,"v":400},{"r":41,"t":195,"v":540},{"r":41,"t":210,"v":650},{"r":41,"t":225,"v":630},{"r":41,"t":240,"v":560},{"r":41,"t":260,"v":450},{"r":41,"t":280,"v":350},{"r":41,"t":300,"v":270},{"r":41,"t":325,"v":200},{"r":41,"t":350,"v":150},
{"r":42,"t":0,"v":0},{"r":42,"t":120,"v":10},{"r":42,"t":150,"v":50},{"r":42,"t":180,"v":150},{"r":42,"t":210,"v":290},{"r":42,"t":235,"v":420},{"r":42,"t":260,"v":500},{"r":42,"t":280,"v":470},{"r":42,"t":300,"v":400},{"r":42,"t":320,"v":350},{"r":42,"t":340,"v":320},{"r":42,"t":350,"v":300},
{"r":43,"t":0,"v":0},{"r":43,"t":60,"v":5},{"r":43,"t":70,"v":30},{"r":43,"t":80,"v":100},{"r":43,"t":90,"v":260},{"r":43,"t":100,"v":560},{"r":43,"t":110,"v":1000},{"r":43,"t":118,"v":1450},{"r":43,"t":125,"v":1800},{"r":43,"t":132,"v":1700},{"r":43,"t":140,"v":1450},{"r":43,"t":150,"v":1150},{"r":43,"t":165,"v":760},{"r":43,"t":180,"v":470},{"r":43,"t":200,"v":220},{"r":43,"t":225,"v":80},{"r":43,"t":260,"v":20},{"r":43,"t":350,"v":1},
{"r":44,"t":0,"v":0},{"r":44,"t":30,"v":10},{"r":44,"t":40,"v":40},{"r":44,"t":50,"v":130},{"r":44,"t":60,"v":320},{"r":44,"t":70,"v":600},{"r":44,"t":80,"v":900},{"r":44,"t":90,"v":1050},{"r":44,"t":100,"v":980},{"r":44,"t":115,"v":750},{"r":44,"t":130,"v":520},{"r":44,"t":150,"v":300},{"r":44,"t":170,"v":160},{"r":44,"t":200,"v":60},{"r":44,"t":240,"v":15},{"r":44,"t":350,"v":1},
{"r":45,"t":0,"v":0},{"r":45,"t":60,"v":10},{"r":45,"t":80,"v":40},{"r":45,"t":100,"v":130},{"r":45,"t":120,"v":320},{"r":45,"t":140,"v":550},{"r":45,"t":160,"v":520},{"r":45,"t":180,"v":430},{"r":45,"t":200,"v":330},{"r":45,"t":230,"v":210},{"r":45,"t":260,"v":120},{"r":45,"t":290,"v":70},{"r":45,"t":320,"v":40},{"r":45,"t":350,"v":25},
{"r":46,"t":0,"v":0},{"r":46,"t":50,"v":15},{"r":46,"t":100,"v":60},{"r":46,"t":150,"v":120},{"r":46,"t":200,"v":90},{"r":46,"t":250,"v":60},{"r":46,"t":300,"v":40},{"r":46,"t":350,"v":30},
{"r":47,"t":0,"v":0},{"r":47,"t":50,"v":8},{"r":47,"t":100,"v":30},{"r":47,"t":150,"v":70},{"r":47,"t":200,"v":140},{"r":47,"t":250,"v":160},{"r":47,"t":300,"v":120},{"r":47,"t":350,"v":90},
{"r":48,"t":0,"v":0},{"r":48,"t":50,"v":5},{"r":48,"t":100,"v":15},{"r":48,"t":150,"v":30},{"r":48,"t":200,"v":40},{"r":48,"t":250,"v":40},{"r":48,"t":300,"v":35},{"r":48,"t":350,"v":30},
{"r":49,"t":0,"v":0},{"r":49,"t":50,"v":30},{"r":49,"t":100,"v":120},{"r":49,"t":150,"v":90},{"r":49,"t":200,"v":50},{"r":49,"t":250,"v":25},{"r":49,"t":300,"v":12},{"r":49,"t":350,"v":6},
{"r":50,"t":0,"v":0},{"r":50,"t":30,"v":5},{"r":50,"t":40,"v":30},{"r":50,"t":50,"v":150},{"r":50,"t":60,"v":500},{"r":50,"t":70,"v":1200},{"r":50,"t":80,"v":1900},{"r":50,"t":88,"v":2300},{"r":50,"t":95,"v":2150},{"r":50,"t":105,"v":1650},{"r":50,"t":115,"v":1150},{"r":50,"t":130,"v":620},{"r":50,"t":150,"v":250},{"r":50,"t":170,"v":90},{"r":50,"t":200,"v":20},{"r":50,"t":350,"v":0},
{"r":51,"t":0,"v":0},{"r":51,"t":40,"v":10},{"r":51,"t":50,"v":50},{"r":51,"t":60,"v":160},{"r":51,"t":70,"v":400},{"r":51,"t":80,"v":780},{"r":51,"t":90,"v":1200},{"r":51,"t":95,"v":1400},{"r":51,"t":103,"v":1300},{"r":51,"t":115,"v":1000},{"r":51,"t":130,"v":650},{"r":51,"t":150,"v":350},{"r":51,"t":170,"v":170},{"r":51,"t":200,"v":60},{"r":51,"t":240,"v":12},{"r":51,"t":350,"v":1},
{"r":52,"t":0,"v":0},{"r":52,"t":50,"v":10},{"r":52,"t":70,"v":80},{"r":52,"t":90,"v":350},{"r":52,"t":105,"v":750},{"r":52,"t":115,"v":1000},{"r":52,"t":125,"v":960},{"r":52,"t":140,"v":800},{"r":52,"t":160,"v":560},{"r":52,"t":180,"v":370},{"r":52,"t":205,"v":200},{"r":52,"t":230,"v":100},{"r":52,"t":260,"v":40},{"r":52,"t":300,"v":12},{"r":52,"t":350,"v":4},
{"r":53,"t":0,"v":0},{"r":53,"t":60,"v":5},{"r":53,"t":80,"v":30},{"r":53,"t":100,"v":110},{"r":53,"t":120,"v":300},{"r":53,"t":135,"v":520},{"r":53,"t":150,"v":700},{"r":53,"t":165,"v":680},{"r":53,"t":185,"v":560},{"r":53,"t":210,"v":400},{"r":53,"t":240,"v":250},{"r":53,"t":270,"v":150},{"r":53,"t":300,"v":90},{"r":53,"t":325,"v":60},{"r":53,"t":350,"v":40},
{"r":54,"t":0,"v":0},{"r":54,"t":80,"v":10},{"r":54,"t":110,"v":60},{"r":54,"t":140,"v":200},{"r":54,"t":160,"v":340},{"r":54,"t":180,"v":450},{"r":54,"t":200,"v":440},{"r":54,"t":230,"v":380},{"r":54,"t":260,"v":300},{"r":54,"t":290,"v":230},{"r":54,"t":320,"v":180},{"r":54,"t":350,"v":140},
{"r":55,"t":0,"v":0},{"r":55,"t":20,"v":5},{"r":55,"t":30,"v":30},{"r":55,"t":40,"v":200},{"r":55,"t":48,"v":800},{"r":55,"t":55,"v":1800},{"r":55,"t":61,"v":2600},{"r":55,"t":66,"v":3000},{"r":55,"t":70,"v":2850},{"r":55,"t":76,"v":2300},{"r":55,"t":83,"v":1650},{"r":55,"t":92,"v":1050},{"r":55,"t":102,"v":600},{"r":55,"t":115,"v":280},{"r":55,"t":130,"v":110},{"r":55,"t":150,"v":35},{"r":55,"t":180,"v":8},{"r":55,"t":350,"v":0},
{"r":56,"t":0,"v":0},{"r":56,"t":40,"v":5},{"r":56,"t":50,"v":25},{"r":56,"t":60,"v":100},{"r":56,"t":70,"v":300},{"r":56,"t":80,"v":650},{"r":56,"t":90,"v":1150},{"r":56,"t":98,"v":1600},{"r":56,"t":105,"v":1900},{"r":56,"t":112,"v":1800},{"r":56,"t":122,"v":1450},{"r":56,"t":135,"v":1000},{"r":56,"t":150,"v":600},{"r":56,"t":170,"v":280},{"r":56,"t":195,"v":100},{"r":56,"t":230,"v":25},{"r":56,"t":350,"v":1},
{"r":57,"t":0,"v":0},{"r":57,"t":50,"v":20},{"r":57,"t":100,"v":50},{"r":57,"t":150,"v":80},{"r":57,"t":200,"v":70},{"r":57,"t":250,"v":50},{"r":57,"t":300,"v":35},{"r":57,"t":350,"v":25},
{"r":58,"t":0,"v":0},{"r":58,"t":50,"v":40},{"r":58,"t":100,"v":150},{"r":58,"t":150,"v":200},{"r":58,"t":200,"v":130},{"r":58,"t":250,"v":70},{"r":58,"t":300,"v":40},{"r":58,"t":350,"v":20},
{"r":59,"t":0,"v":0},{"r":59,"t":50,"v":5},{"r":59,"t":100,"v":25},{"r":59,"t":150,"v":60},{"r":59,"t":200,"v":100},{"r":59,"t":250,"v":110},{"r":59,"t":300,"v":90},{"r":59,"t":350,"v":70},
{"r":60,"t":0,"v":0},{"r":60,"t":50,"v":10},{"r":60,"t":100,"v":30},{"r":60,"t":150,"v":40},{"r":60,"t":200,"v":30},{"r":60,"t":250,"v":20},{"r":60,"t":300,"v":15},{"r":60,"t":350,"v":10},
{"r":61,"t":0,"v":0},{"r":61,"t":50,"v":15},{"r":61,"t":100,"v":80},{"r":61,"t":150,"v":180},{"r":61,"t":200,"v":220},{"r":61,"t":250,"v":180},{"r":61,"t":300,"v":130},{"r":61,"t":350,"v":90},
{"r":62,"t":0,"v":0},{"r":62,"t":50,"v":2},{"r":62,"t":100,"v":8},{"r":62,"t":150,"v":20},{"r":62,"t":200,"v":35},{"r":62,"t":250,"v":45},{"r":62,"t":300,"v":50},{"r":62,"t":350,"v":50}
]
},
"hconcat": [
{
  "width": 1118, "height": 612,
  "title": {"text": "Incidence, Barabási-Albert", "anchor": "middle", "frame": "group", "offset": -93},
  "layer": [
    {
      "data": {"name": "ba"},
      "mark": {"type": "line", "color": "#4169E1", "strokeWidth": 8, "opacity": 0.18, "interpolate": "monotone", "strokeCap": "square", "strokeJoin": "round"},
      "encoding": {
        "x": {"field": "t", "type": "quantitative", "scale": {"domain": [0, 100], "nice": false, "zero": false}, "axis": {"values": [0, 20, 40, 60, 80, 100], "title": "Time, days"}},
        "y": {"field": "v", "type": "quantitative", "scale": {"domain": [-680, 14590], "nice": false, "zero": false}, "axis": {"values": [0, 5000, 10000], "title": "Incidence, cases", "titleX": -250, "labelExpr": "datum.value >= 10000 ? format(datum.value, ',') : format(datum.value, 'd')"}},
        "detail": {"field": "r", "type": "nominal"}
      }
    },
    {
      "data": {"values": [{"lab": "(a)"}]},
      "mark": {"type": "text", "font": "DejaVu Sans", "fontSize": 60, "align": "left", "baseline": "alphabetic", "color": "black"},
      "encoding": {
        "x": {"datum": -9.57, "type": "quantitative"},
        "y": {"datum": 16137, "type": "quantitative"},
        "text": {"field": "lab"}
      }
    }
  ]
},
{
  "width": 1118, "height": 612,
  "title": {"text": "Incidence, small world", "anchor": "middle", "frame": "group", "offset": -93},
  "layer": [
    {
      "data": {"name": "sw"},
      "mark": {"type": "line", "color": "#4169E1", "strokeWidth": 8, "opacity": 0.18, "interpolate": "monotone", "strokeCap": "square", "strokeJoin": "round"},
      "encoding": {
        "x": {"field": "t", "type": "quantitative", "scale": {"domain": [-16.5, 366.5], "nice": false, "zero": false}, "axis": {"values": [0, 100, 200, 300], "title": "Time, days"}},
        "y": {"field": "v", "type": "quantitative", "scale": {"domain": [-186, 3935], "nice": false, "zero": false}, "axis": {"values": [0, 1000, 2000, 3000], "title": "Incidence, cases", "titleX": -200, "format": "d"}},
        "detail": {"field": "r", "type": "nominal"}
      }
    },
    {
      "data": {"values": [{"lab": "(b)"}]},
      "mark": {"type": "text", "font": "DejaVu Sans", "fontSize": 60, "align": "left", "baseline": "alphabetic", "color": "black"},
      "encoding": {
        "x": {"datum": -53.1, "type": "quantitative"},
        "y": {"datum": 4352, "type": "quantitative"},
        "text": {"field": "lab"}
      }
    }
  ]
}
]
}
